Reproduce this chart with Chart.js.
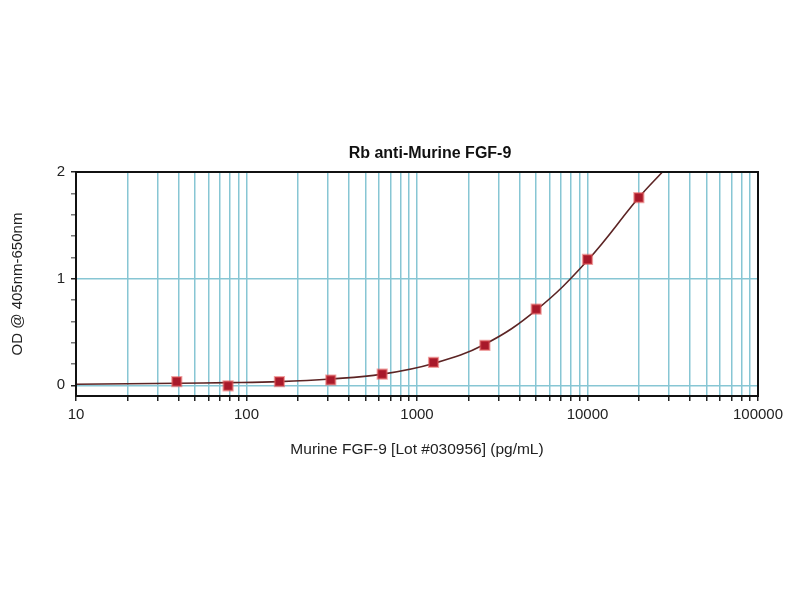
<!DOCTYPE html>
<html>
<head>
<meta charset="utf-8">
<script src="https://cdn.jsdelivr.net/npm/chart.js@4"></script>
<style>
  body { margin: 0; background: #fff; }
  #wrap { width: 800px; height: 600px; }
</style>
</head>
<body>
<div id="wrap"><canvas id="myChart" width="800" height="600"></canvas></div>
<script>
/* valores */
const concentracion = [39, 78, 156, 312, 625, 1250, 2500, 5000, 10000, 20000];
const densidad = [0.035, -0.005, 0.035, 0.05, 0.105, 0.215, 0.375, 0.715, 1.18, 1.76];

// curva ajustada, leida punto a punto del dibujo
const curvaX = [10, 20, 40, 78, 156, 312, 625, 1250, 2500, 5000, 10000, 20000, 27500];
const curvaY = [0.01, 0.015, 0.02, 0.025, 0.035, 0.06, 0.105, 0.205, 0.385, 0.705, 1.17, 1.76, 2.0];

const ticksX = [10, 100, 1000, 10000, 100000];
const ticksY = [0, 1, 2];

const titulo = "Rb anti-Murine FGF-9";
const tituloX = "Murine FGF-9 [Lot #030956] (pg/mL)";
const tituloY = "OD @ 405nm-650nm";

const fuente = "'Liberation Sans', Arial, sans-serif";
const azul = "rgb(135,198,212)";

// marco negro y titulo
const marco = {
  id: "marco",
  afterDatasetsDraw(chart) {
    const { ctx, chartArea: a } = chart;
    ctx.save();
    ctx.strokeStyle = "#111";
    ctx.lineWidth = 2;
    ctx.strokeRect(a.left, a.top, a.right - a.left, a.bottom - a.top);
    ctx.restore();
  },
  afterDraw(chart) {
    const ctx = chart.ctx;
    ctx.save();
    ctx.font = "bold 16px " + fuente;
    ctx.fillStyle = "#111";
    ctx.textAlign = "center";
    ctx.textBaseline = "middle";
    ctx.fillText(titulo, 430, 154);
    ctx.restore();
  }
};

let grafico = document.getElementById("myChart").getContext("2d");

let myChart = new Chart(grafico, {
  type: "line",
  data: {
    datasets: [
      {
        label: "puntos",
        data: concentracion.map((c, i) => ({ x: c, y: densidad[i] })),
        showLine: false,
        pointStyle: "rect",
        pointRadius: 6.5,
        backgroundColor: "#a8192a",
        borderColor: "rgba(225,90,90,0.55)",
        borderWidth: 2
      },
      {
        label: "curva",
        data: curvaX.map((c, i) => ({ x: c, y: curvaY[i] })),
        borderColor: "#5c2424",
        borderWidth: 1.6,
        pointRadius: 0,
        tension: 0.4,
        fill: false
      }
    ]
  },
  plugins: [marco],
  options: {
    responsive: false,
    animation: false,
    layout: { padding: { top: 172, right: 42, left: 0, bottom: 0 } },
    plugins: {
      legend: { display: false },
      tooltip: { enabled: false }
    },
    scales: {
      x: {
        type: "logarithmic",
        min: 10,
        max: 100000,
        afterBuildTicks: (scale) => {
          const t = [];
          for (let d = 10; d < 100000; d *= 10) {
            for (let m = 1; m < 10; m++) t.push({ value: d * m });
          }
          t.push({ value: 100000 });
          scale.ticks = t;
        },
        afterFit: (scale) => { scale.height = 204; },
        ticks: {
          autoSkip: false,
          maxRotation: 0,
          padding: 5,
          color: "#222",
          font: { family: fuente, size: 15 },
          callback: (v) => ticksX.includes(v) ? String(v) : ""
        },
        grid: {
          color: azul,
          lineWidth: 1.5,
          tickColor: "#222",
          tickLength: 5
        },
        border: { display: false },
        title: {
          display: true,
          text: tituloX,
          color: "#222",
          font: { family: fuente, size: 15.5 },
          padding: { top: 141, bottom: 141 }
        }
      },
      y: {
        min: -0.1,
        max: 2,
        afterBuildTicks: (scale) => {
          const t = [];
          for (let i = 0; i <= 10; i++) t.push({ value: Math.round(i * 2) / 10 });
          scale.ticks = t;
        },
        afterFit: (scale) => { scale.width = 76; },
        ticks: {
          autoSkip: false,
          padding: 6,
          color: "#222",
          font: { family: fuente, size: 15 },
          callback: (v) => ticksY.includes(v) ? String(v) : ""
        },
        grid: {
          color: (ctx) => (ctx.tick && (ctx.tick.value === 0 || ctx.tick.value === 1)) ? azul : "rgba(0,0,0,0)",
          lineWidth: 1.5,
          tickColor: (ctx) => (ctx.tick && ticksY.includes(ctx.tick.value)) ? "#222" : "#777",
          tickLength: 5
        },
        border: { display: false },
        title: {
          display: true,
          text: tituloY,
          color: "#222",
          font: { family: fuente, size: 15 },
          padding: { top: 9, bottom: 9 }
        }
      }
    }
  }
});
</script>
</body>
</html>
